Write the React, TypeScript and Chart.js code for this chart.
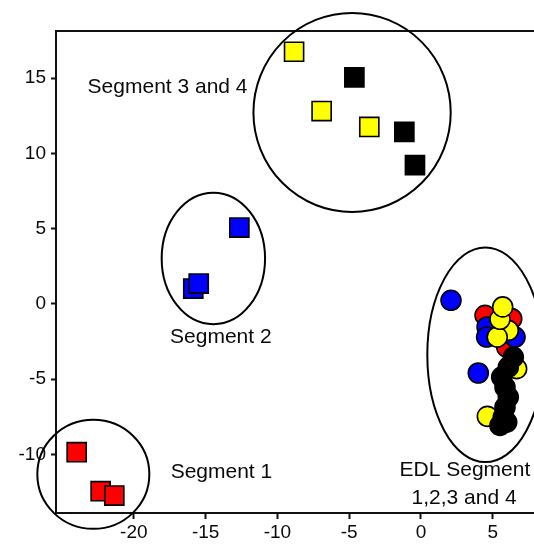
import React, { useEffect, useRef } from 'react';
import { Chart, registerables } from 'chart.js';

Chart.register(...registerables);

// Axis ranges and tick labels
const xTicks = [-20, -15, -10, -5, 0, 5];
const yTicks = [-10, -5, 0, 5, 10, 15];
const xMin = -25.42;
const xMax = 7.87;
const yMin = -13.89;
const yMax = 18.13;

// Segment samples (squares)
const redSquares = [
  { x: -23.98, y: -9.85 },
  { x: -22.31, y: -12.44 },
  { x: -21.36, y: -12.73 },
];
const blueSquares = [
  { x: -15.86, y: 1.02 },
  { x: -15.48, y: 1.35 },
  { x: -12.65, y: 5.07 },
];
const yellowSquares = [
  { x: -8.84, y: 16.75 },
  { x: -6.92, y: 12.81 },
  { x: -3.6, y: 11.76 },
];
const blackSquares = [
  { x: -4.64, y: 15.05 },
  { x: -1.16, y: 11.43 },
  { x: -0.42, y: 9.22 },
];

// EDL samples (circles)
const redCircles = [
  { x: 4.46, y: -0.76 },
  { x: 6.32, y: -0.98 },
  { x: 5.97, y: -2.87 },
];
const blueCircles = [
  { x: 2.09, y: 0.24 },
  { x: 3.99, y: -4.59 },
  { x: 4.6, y: -1.53 },
  { x: 6.55, y: -2.2 },
  { x: 4.57, y: -2.2 },
];
const yellowCircles = [
  { x: 6.66, y: -4.3 },
  { x: 4.62, y: -7.47 },
  { x: 6.08, y: -1.76 },
  { x: 5.31, y: -2.2 },
  { x: 5.5, y: -1.02 },
  { x: 5.69, y: -0.2 },
];
const blackCircles = [
  { x: 6.43, y: -3.53 },
  { x: 6.08, y: -4.2 },
  { x: 5.62, y: -4.86 },
  { x: 5.85, y: -5.53 },
  { x: 6.08, y: -6.19 },
  { x: 5.85, y: -6.86 },
  { x: 5.73, y: -7.52 },
  { x: 5.97, y: -7.85 },
  { x: 5.5, y: -8.07 },
];

// Group annotations (data units)
const groupLabels = ['Segment 3 and 4', 'Segment 2', 'Segment 1', 'EDL Segment', '1,2,3 and 4'];
const groupLabelX = [-17.65, -13.94, -13.9, 3.06, 3.0];
const groupLabelY = [14.4, -2.2, -11.18, -11.04, -12.89];
const ellipseCX = [-4.8, -14.46, -22.82, 4.48];
const ellipseCY = [12.72, 3.02, -11.32, -3.38];
const ellipseRX = [6.87, 3.6, 3.9, 4.04];
const ellipseRY = [6.61, 4.37, 3.62, 7.13];

const FONT = '"Liberation Sans", Arial, Helvetica, sans-serif';

const annotationPlugin = {
  id: 'annotations',
  afterDraw(chart: any) {
    const { ctx, chartArea, scales } = chart;
    const xs = scales.x;
    const ys = scales.y;
    ctx.save();
    // top frame line
    ctx.strokeStyle = '#111';
    ctx.lineWidth = 2;
    ctx.beginPath();
    ctx.moveTo(chartArea.left - 1, chartArea.top);
    ctx.lineTo(chart.width, chartArea.top);
    ctx.stroke();
    // ellipses
    ctx.lineWidth = 2;
    ctx.strokeStyle = '#000';
    for (let i = 0; i < ellipseCX.length; i++) {
      const cx = xs.getPixelForValue(ellipseCX[i]);
      const cy = ys.getPixelForValue(ellipseCY[i]);
      const rx = Math.abs(xs.getPixelForValue(ellipseCX[i] + ellipseRX[i]) - cx);
      const ry = Math.abs(ys.getPixelForValue(ellipseCY[i] + ellipseRY[i]) - cy);
      ctx.beginPath();
      ctx.ellipse(cx, cy, rx, ry, 0, 0, Math.PI * 2);
      ctx.stroke();
    }
    // labels
    ctx.fillStyle = '#0a0a0a';
    ctx.font = `21px ${FONT}`;
    ctx.textAlign = 'center';
    ctx.textBaseline = 'middle';
    for (let i = 0; i < groupLabels.length; i++) {
      ctx.fillText(
        groupLabels[i],
        xs.getPixelForValue(groupLabelX[i]),
        ys.getPixelForValue(groupLabelY[i])
      );
    }
    ctx.restore();
  },
};

function squareSet(data: { x: number; y: number }[], color: string) {
  return {
    data,
    pointStyle: 'rect',
    pointRadius: 13.5,
    pointHoverRadius: 13.5,
    backgroundColor: color,
    borderColor: '#000',
    borderWidth: 1.6,
    showLine: false,
  };
}
function circleSet(data: { x: number; y: number }[], color: string) {
  return {
    data,
    pointStyle: 'circle',
    pointRadius: 10,
    pointHoverRadius: 10,
    backgroundColor: color,
    borderColor: '#000',
    borderWidth: 1.6,
    showLine: false,
  };
}

export default function App() {
  const canvasRef = useRef<HTMLCanvasElement | null>(null);

  useEffect(() => {
    const canvas = canvasRef.current;
    if (!canvas) return;
    const chart = new Chart(canvas, {
      type: 'scatter',
      data: {
        datasets: [
          circleSet(blackCircles, '#000000'),
          circleSet(yellowCircles, '#ffff00'),
          circleSet(blueCircles, '#0000ff'),
          circleSet(redCircles, '#ff0000'),
          squareSet(blackSquares, '#000000'),
          squareSet(yellowSquares, '#ffff00'),
          squareSet(blueSquares, '#0000ff'),
          squareSet(redSquares, '#ff0000'),
        ] as any,
      },
      options: {
        responsive: false,
        animation: false,
        devicePixelRatio: 1,
        layout: { autoPadding: false, padding: { top: 31, right: 0, left: 0, bottom: 0 } },
        plugins: {
          legend: { display: false },
          tooltip: { enabled: false },
        },
        scales: {
          x: {
            type: 'linear',
            min: xMin,
            max: xMax,
            afterBuildTicks: (s: any) => {
              s.ticks = xTicks.map((v) => ({ value: v }));
            },
            afterFit: (s: any) => {
              s.height = 31;
              s.paddingLeft = 0;
              s.paddingRight = 0;
            },
            grid: {
              display: true,
              drawOnChartArea: false,
              drawTicks: true,
              tickLength: 6,
              tickWidth: 2,
              tickColor: '#111',
            },
            border: { display: true, color: '#111', width: 2 },
            ticks: {
              color: '#0a0a0a',
              font: { family: FONT, size: 19 },
              padding: 2,
              maxRotation: 0,
              autoSkip: false,
              callback: (v: any) => String(v),
            },
          },
          y: {
            type: 'linear',
            min: yMin,
            max: yMax,
            afterBuildTicks: (s: any) => {
              s.ticks = yTicks.map((v) => ({ value: v }));
            },
            afterFit: (s: any) => {
              s.width = 56;
              s.paddingTop = 0;
              s.paddingBottom = 0;
            },
            grid: {
              display: true,
              drawOnChartArea: false,
              drawTicks: true,
              tickLength: 5,
              tickWidth: 2,
              tickColor: '#111',
            },
            border: { display: true, color: '#111', width: 2 },
            ticks: {
              color: '#0a0a0a',
              font: { family: FONT, size: 19 },
              padding: 5,
              autoSkip: false,
              callback: (v: any) => String(v),
            },
          },
        },
      } as any,
      plugins: [annotationPlugin],
    });
    return () => chart.destroy();
  }, []);

  return (
    <div style={{ position: 'absolute', left: 0, top: 0, width: 534, height: 544, background: '#fff' }}>
      <canvas ref={canvasRef} width={534} height={544} style={{ display: 'block' }} />
    </div>
  );
}
